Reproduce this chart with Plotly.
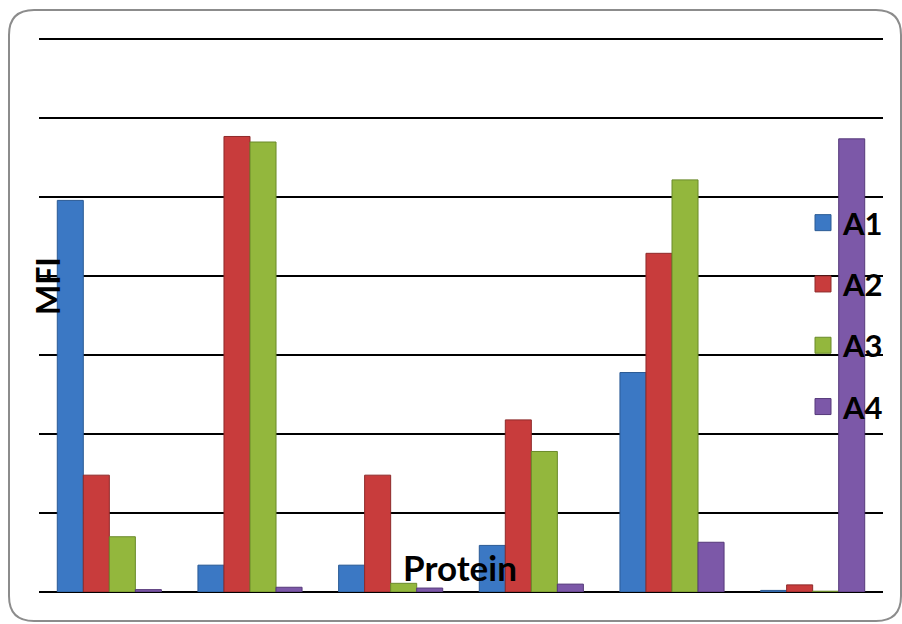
import plotly.graph_objects as go

proteins = ["P1", "P2", "P3", "P4", "P5", "P6"]
series_names = ["A1", "A2", "A3", "A4"]
a1 = [4.96, 0.34, 0.34, 0.59, 2.78, 0.02]
a2 = [1.48, 5.77, 1.48, 2.18, 4.29, 0.09]
a3 = [0.70, 5.70, 0.11, 1.78, 5.22, 0.01]
a4 = [0.03, 0.06, 0.05, 0.10, 0.63, 5.74]
colors = ["#3B78C4", "#C83C3C", "#93B73D", "#7C58A8"]
edge_colors = ["#2A5A94", "#8E2A2A", "#6A8A2A", "#56397A"]

values = [a1, a2, a3, a4]

W, H = 902, 624
ml, mr, mt, mb = 39, 19, 37, 32
pw, ph = W - ml - mr, H - mt - mb

def px_x(x):
    return (x - ml) / pw

def px_y(y):
    return (H - mb - y) / ph

fig = go.Figure()
for name, vals, c, ec in zip(series_names, values, colors, edge_colors):
    fig.add_trace(go.Bar(x=proteins, y=vals, name=name, showlegend=False,
                         marker=dict(color=c, line=dict(color=ec, width=1))))
for name, c, ec in zip(series_names, colors, edge_colors):
    fig.add_trace(go.Scatter(x=[None], y=[None], mode="markers", name=name,
                             legendgroup=name,
                             marker=dict(symbol="square", size=22, color=c,
                                         line=dict(color=ec, width=1))))

# rounded border
x0, x1 = px_x(9), px_x(901)
y0, y1 = px_y(621), px_y(10)
rx, ry = 25 / pw, 25 / ph
path = (f"M {x0+rx},{y1} L {x1-rx},{y1} Q {x1},{y1} {x1},{y1-ry} "
        f"L {x1},{y0+ry} Q {x1},{y0} {x1-rx},{y0} L {x0+rx},{y0} "
        f"Q {x0},{y0} {x0},{y0+ry} L {x0},{y1-ry} Q {x0},{y1} {x0+rx},{y1} Z")
fig.add_shape(type="path", path=path, xref="paper", yref="paper",
              line=dict(color="#8C8C8C", width=2), layer="below")

fig.add_annotation(text="MFI", x=px_x(47), y=px_y(286), xref="paper", yref="paper",
                   xanchor="center", yanchor="middle",
                   showarrow=False, textangle=-90,
                   font=dict(family="Lato", size=32, color="black", weight="bold"))
fig.add_annotation(text="Protein", x=px_x(460), y=px_y(567), xref="paper", yref="paper",
                   xanchor="center", yanchor="middle",
                   showarrow=False,
                   font=dict(family="Lato", size=35, color="black", weight="bold"))

fig.update_layout(
    width=W, height=H,
    margin=dict(l=ml, r=mr, t=mt, b=mb),
    paper_bgcolor="white", plot_bgcolor="white",
    barmode="group", bargap=0.26, bargroupgap=0,
    font=dict(family="Lato", color="black"),
    xaxis=dict(showticklabels=False, showgrid=False, zeroline=False, showline=False, ticks=""),
    yaxis=dict(range=[0, 7.03], tickvals=[0, 1, 2, 3, 4, 5, 6, 7], showticklabels=False,
               showgrid=True, gridcolor="black", gridwidth=2, zeroline=True,
               zerolinecolor="black", zerolinewidth=2, showline=False, ticks=""),
    legend=dict(x=px_x(803), y=px_y(196), xanchor="left", yanchor="top",
                bgcolor="rgba(0,0,0,0)", tracegroupgap=18,
                font=dict(family="Lato", size=31, color="black", weight="bold")),
)

fig.write_html("out.html")
